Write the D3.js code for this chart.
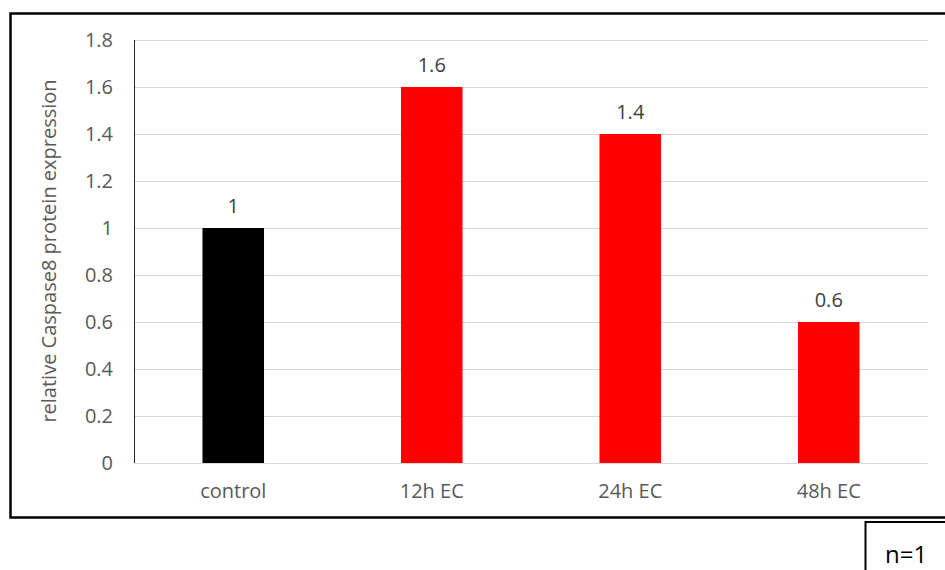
<!DOCTYPE html>
<html>
<head>
<meta charset="utf-8">
<script src="https://cdn.jsdelivr.net/npm/d3@7"></script>
<style>
  html, body { margin: 0; padding: 0; background: #fff; }
  svg { display: block; }
</style>
</head>
<body>
<svg id="chart" width="945" height="570"></svg>
<script>
// Relative Caspase8 protein expression per condition
const categories = ["control", "12h EC", "24h EC", "48h EC"];
const values = [1, 1.6, 1.4, 0.6];
const barColors = ["#000000", "#ff0000", "#ff0000", "#ff0000"];
const yTicks = [0, 0.2, 0.4, 0.6, 0.8, 1, 1.2, 1.4, 1.6, 1.8];
const yTitle = "relative Caspase8 protein expression";
const noteText = "n=1";

const svg = d3.select("#chart");
const font = "'Open Sans', sans-serif";
const grey = "#595959";
const fs = 20;

// Outer frame
svg.append("rect")
  .attr("x", 10.5).attr("y", 13.5)
  .attr("width", 960).attr("height", 504)
  .attr("fill", "none").attr("stroke", "#000").attr("stroke-width", 2.5);

const plot = { left: 134, right: 928, top: 40, bottom: 463 };

const x = d3.scaleBand()
  .domain(categories)
  .range([plot.left, plot.right])
  .paddingInner(0.69)
  .paddingOuter(0.345);

const y = d3.scaleLinear()
  .domain([0, 1.8])
  .range([plot.bottom, plot.top]);

// Horizontal gridlines
svg.append("g")
  .selectAll("line")
  .data(yTicks)
  .join("line")
  .attr("x1", plot.left).attr("x2", plot.right)
  .attr("y1", d => Math.round(y(d)) + 0.5)
  .attr("y2", d => Math.round(y(d)) + 0.5)
  .attr("stroke", "#d9d9d9").attr("stroke-width", 1);

// Y axis labels
const yAxis = d3.axisLeft(y).tickValues(yTicks).tickSize(0).tickPadding(21)
  .tickFormat(d => String(+d.toFixed(1)));
const gy = svg.append("g")
  .attr("transform", `translate(${plot.left},0)`)
  .call(yAxis);
gy.select(".domain").remove();
gy.selectAll("text")
  .attr("font-family", font).attr("font-size", fs).attr("fill", grey);

// Bars
svg.append("g")
  .selectAll("rect")
  .data(values)
  .join("rect")
  .attr("x", (d, i) => x(categories[i]))
  .attr("y", d => y(d))
  .attr("width", x.bandwidth())
  .attr("height", d => y(0) - y(d))
  .attr("fill", (d, i) => barColors[i]);

// Value labels
svg.append("g")
  .selectAll("text")
  .data(values)
  .join("text")
  .attr("x", (d, i) => x(categories[i]) + x.bandwidth() / 2)
  .attr("y", d => y(d) - 15)
  .attr("text-anchor", "middle")
  .attr("font-family", font).attr("font-size", fs).attr("fill", "#404040")
  .text(d => String(d));

// Left axis line
svg.append("line")
  .attr("x1", plot.left + 0.5).attr("x2", plot.left + 0.5)
  .attr("y1", plot.top).attr("y2", plot.bottom)
  .attr("stroke", "#262626").attr("stroke-width", 1);

// X axis labels
const xAxis = d3.axisBottom(x).tickSize(0).tickPadding(21);
const gx = svg.append("g")
  .attr("transform", `translate(0,${plot.bottom})`)
  .call(xAxis);
gx.select(".domain").remove();
gx.selectAll("text")
  .attr("font-family", font).attr("font-size", fs).attr("fill", grey);

// Y axis title
svg.append("text")
  .attr("transform", `translate(56,251) rotate(-90)`)
  .attr("text-anchor", "middle")
  .attr("font-family", font).attr("font-size", fs).attr("fill", grey)
  .text(yTitle);

// Sample size note box
svg.append("rect")
  .attr("x", 865.5).attr("y", 522)
  .attr("width", 120).attr("height", 80)
  .attr("fill", "#fff").attr("stroke", "#000").attr("stroke-width", 2);
svg.append("text")
  .attr("x", 885).attr("y", 563)
  .attr("font-family", font).attr("font-size", 24).attr("fill", "#000")
  .text(noteText);
</script>
</body>
</html>
